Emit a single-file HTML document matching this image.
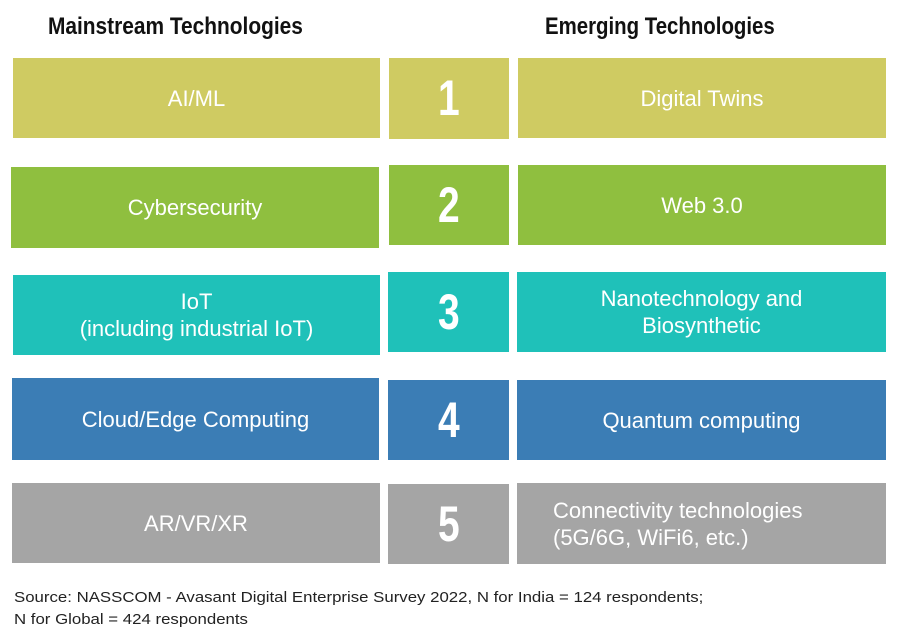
<!DOCTYPE html>
<html><head><meta charset="utf-8">
<style>
body{margin:0;width:898px;height:634px;background:#fff;position:relative;overflow:hidden;font-family:"Liberation Sans",sans-serif}
.h{position:absolute;top:13px;font-weight:bold;font-size:24px;color:#111;white-space:nowrap;transform-origin:0 0}
.b{position:absolute;display:flex;align-items:center;justify-content:center;text-align:center;color:#fff;font-size:22px;line-height:27px}
.n span{display:inline-block;font-weight:bold;font-size:50px;transform:scaleX(0.78)}
.f{position:absolute;left:14px;font-size:15px;color:#222;white-space:nowrap;transform:scaleX(1.12);transform-origin:0 0}
</style></head><body>
<div class="h" style="left:48px;transform:scaleX(0.87)">Mainstream Technologies</div>
<div class="h" style="left:545px;transform:scaleX(0.85)">Emerging Technologies</div>

<div class="b" style="left:13px;top:58px;width:367px;height:80px;background:#cfcb62">AI/ML</div>
<div class="b n" style="left:389px;top:58px;width:120px;height:81px;background:#cfcb62"><span>1</span></div>
<div class="b" style="left:518px;top:58px;width:368px;height:80px;background:#cfcb62">Digital Twins</div>

<div class="b" style="left:11px;top:167px;width:368px;height:81px;background:#8fbf3f">Cybersecurity</div>
<div class="b n" style="left:389px;top:165px;width:120px;height:80px;background:#8fbf3f"><span>2</span></div>
<div class="b" style="left:518px;top:165px;width:368px;height:80px;background:#8fbf3f">Web 3.0</div>

<div class="b" style="left:13px;top:275px;width:367px;height:80px;background:#1fc1b9">IoT<br>(including industrial IoT)</div>
<div class="b n" style="left:388px;top:272px;width:121px;height:80px;background:#1fc1b9"><span>3</span></div>
<div class="b" style="left:517px;top:272px;width:369px;height:80px;background:#1fc1b9">Nanotechnology and<br>Biosynthetic</div>

<div class="b" style="left:12px;top:378px;width:367px;height:82px;background:#3b7db5">Cloud/Edge Computing</div>
<div class="b n" style="left:388px;top:380px;width:121px;height:80px;background:#3b7db5"><span>4</span></div>
<div class="b" style="left:517px;top:380px;width:369px;height:80px;background:#3b7db5">Quantum computing</div>

<div class="b" style="left:12px;top:483px;width:368px;height:80px;background:#a5a5a5">AR/VR/XR</div>
<div class="b n" style="left:388px;top:484px;width:121px;height:80px;background:#a5a5a5"><span>5</span></div>
<div class="b" style="left:517px;top:483px;width:369px;height:81px;background:#a5a5a5;justify-content:flex-start;text-align:left;padding-left:36px;box-sizing:border-box">Connectivity technologies<br>(5G/6G, WiFi6, etc.)</div>

<div class="f" style="top:589px">Source: NASSCOM - Avasant Digital Enterprise Survey 2022, N for India = 124 respondents;</div>
<div class="f" style="top:611px">N for Global = 424 respondents</div>
</body></html>
